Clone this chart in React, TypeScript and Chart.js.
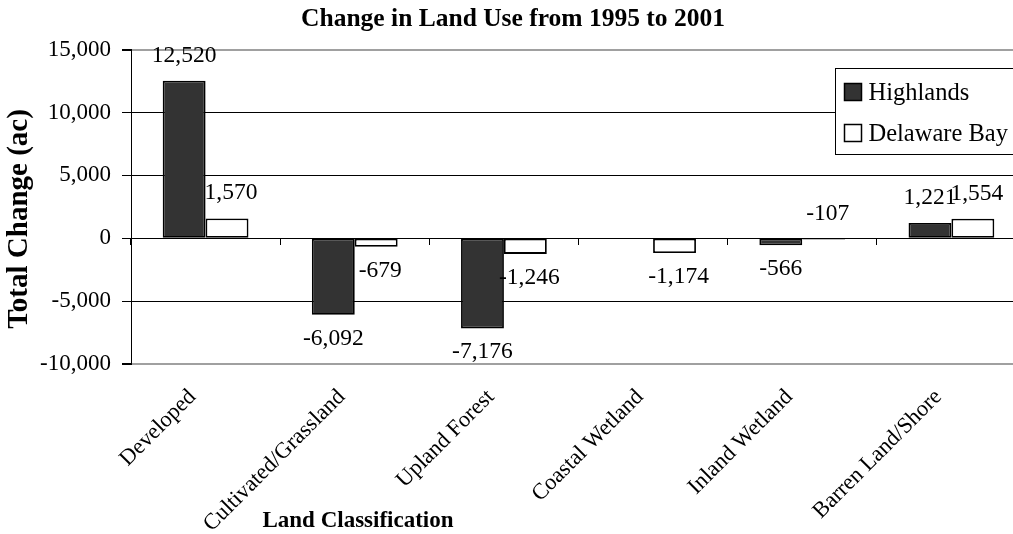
import React, { useEffect, useRef } from 'react';
import { Chart, registerables } from 'chart.js';

Chart.register(...registerables);

const SERIF = "'Liberation Serif', 'Times New Roman', Times, serif";

const chartTitle = 'Change in Land Use from 1995 to 2001';
const xAxisTitle = 'Land Classification';
const yAxisTitle = 'Total Change (ac)';

const categories = [
  'Developed',
  'Cultivated/Grassland',
  'Upland Forest',
  'Coastal Wetland',
  'Inland Wetland',
  'Barren Land/Shore',
];
const seriesNames = ['Highlands', 'Delaware Bay'];
const highlands: (number | null)[] = [12520, -6092, -7176, null, -566, 1221];
const delawareBay: (number | null)[] = [1570, -679, -1246, -1174, -107, 1554];
const yTickValues = [-10000, -5000, 0, 5000, 10000, 15000];

const fmt = (v: number) => v.toLocaleString('en-US');

const valueLabels = {
  id: 'valueLabels',
  afterDatasetsDraw(chart: any) {
    const ctx = chart.ctx;
    const zero = chart.scales.y.getPixelForValue(0);
    ctx.save();
    ctx.font = `23.5px ${SERIF}`;
    ctx.fillStyle = '#000';
    ctx.textAlign = 'center';
    ctx.textBaseline = 'alphabetic';
    chart.data.datasets.forEach((ds: any, di: number) => {
      const meta = chart.getDatasetMeta(di);
      meta.data.forEach((el: any, i: number) => {
        const v = ds.data[i];
        if (v == null) return;
        const top = Math.min(el.y, el.base);
        const bottom = Math.max(el.y, el.base);
        const above = v >= 0 || Math.abs(el.y - zero) < 4;
        const y = above ? top - 19 : bottom + 30;
        ctx.fillText(fmt(v), el.x + (di === 1 ? 4 : 0), y);
      });
    });
    ctx.restore();
  },
};

const boxLegend = {
  id: 'boxLegend',
  afterDraw(chart: any) {
    const ctx = chart.ctx;
    const area = chart.chartArea;
    const left = Math.round(area.right - 191) + 0.5;
    const top = Math.round(area.top + 18) + 0.5;
    ctx.save();
    ctx.fillStyle = '#fff';
    ctx.fillRect(left, top, 260, 86);
    ctx.strokeStyle = '#000';
    ctx.lineWidth = 1;
    ctx.strokeRect(left, top, 260, 86);
    ctx.font = `24.5px ${SERIF}`;
    ctx.textAlign = 'left';
    ctx.textBaseline = 'alphabetic';
    chart.data.datasets.forEach((ds: any, i: number) => {
      const cy = top + 23 + i * 41;
      ctx.fillStyle = ds.backgroundColor;
      ctx.fillRect(left + 9, cy - 8, 17, 17);
      ctx.lineWidth = 1.5;
      ctx.strokeStyle = '#000';
      ctx.strokeRect(left + 9, cy - 8, 17, 17);
      ctx.fillStyle = '#000';
      ctx.fillText(ds.label, left + 33, cy + 8);
    });
    ctx.restore();
  },
};

const axisTitles = {
  id: 'axisTitles',
  afterDraw(chart: any) {
    const ctx = chart.ctx;
    ctx.save();
    ctx.fillStyle = '#000';
    ctx.textAlign = 'center';
    ctx.textBaseline = 'middle';
    ctx.font = `bold 23px ${SERIF}`;
    ctx.fillText(xAxisTitle, chart.chartArea.left + 227, chart.height - 13);
    ctx.translate(20, 219);
    ctx.rotate(-Math.PI / 2);
    ctx.font = `bold 29px ${SERIF}`;
    ctx.fillText(yAxisTitle, 0, 0);
    ctx.restore();
  },
};

export default function App() {
  const canvasRef = useRef<HTMLCanvasElement | null>(null);

  useEffect(() => {
    if (!canvasRef.current) return;
    const chart = new Chart(canvasRef.current, {
      type: 'bar',
      data: {
        labels: categories,
        datasets: [
          {
            label: seriesNames[0],
            data: highlands,
            backgroundColor: '#333333',
            borderColor: '#000',
            borderWidth: 1.8,
            borderSkipped: false,
            categoryPercentage: 0.575,
            barPercentage: 1,
          },
          {
            label: seriesNames[1],
            data: delawareBay,
            backgroundColor: '#ffffff',
            borderColor: '#000',
            borderWidth: 1.8,
            borderSkipped: false,
            categoryPercentage: 0.575,
            barPercentage: 1,
          },
        ],
      },
      options: {
        responsive: false,
        animation: false,
        devicePixelRatio: 1,
        layout: { padding: 0 },
        plugins: {
          legend: { display: false },
          tooltip: { enabled: false },
          title: {
            display: true,
            text: chartTitle,
            color: '#000',
            font: { family: SERIF, size: 25.5, weight: 'bold' },
            padding: { top: 4, bottom: 15 },
          },
        },
        scales: {
          x: {
            type: 'category',
            position: 'bottom',
            grid: { display: false, drawTicks: false },
            border: { display: false },
            ticks: {
              color: '#000',
              font: { family: SERIF, size: 22.5 },
              minRotation: 45,
              maxRotation: 45,
              padding: 20,
              labelOffset: -13,
              autoSkip: false,
            },
            afterFit: (s: any) => {
              s.height = 170;
            },
          },
          x2: {
            type: 'category',
            position: { y: 0 },
            offset: true,
            grid: {
              offset: true,
              drawOnChartArea: false,
              drawTicks: true,
              tickLength: 6,
              color: '#000',
              lineWidth: 1,
            },
            border: { display: true, color: '#000', width: 1 },
            ticks: { display: false },
          },
          y: {
            type: 'linear',
            min: yTickValues[0],
            max: yTickValues[yTickValues.length - 1],
            afterBuildTicks: (s: any) => {
              s.ticks = yTickValues.map((v) => ({ value: v }));
            },
            grid: {
              color: (c: any) =>
                c.tick && (c.tick.value === 15000 || c.tick.value === -10000) ? '#a0a0a0' : '#000',
              lineWidth: (c: any) =>
                c.tick && (c.tick.value === 15000 || c.tick.value === -10000) ? 2 : 1,
              tickColor: '#000',
              tickLength: 9,
            },
            border: { display: true, color: '#000', width: 1 },
            ticks: {
              color: '#000',
              font: { family: SERIF, size: 23 },
              padding: 11,
              callback: (v: any) => fmt(Number(v)),
            },
            title: { display: false },
            afterFit: (s: any) => {
              s.width = 131;
            },
          },
        },
      } as any,
      plugins: [valueLabels, boxLegend, axisTitles],
    });
    return () => chart.destroy();
  }, []);

  return (
    <div
      style={{
        position: 'fixed',
        left: 0,
        top: 0,
        width: 1013,
        height: 534,
        overflow: 'hidden',
        background: '#fff',
      }}
    >
      <canvas ref={canvasRef} width={1026} height={534} style={{ display: 'block' }} />
    </div>
  );
}
